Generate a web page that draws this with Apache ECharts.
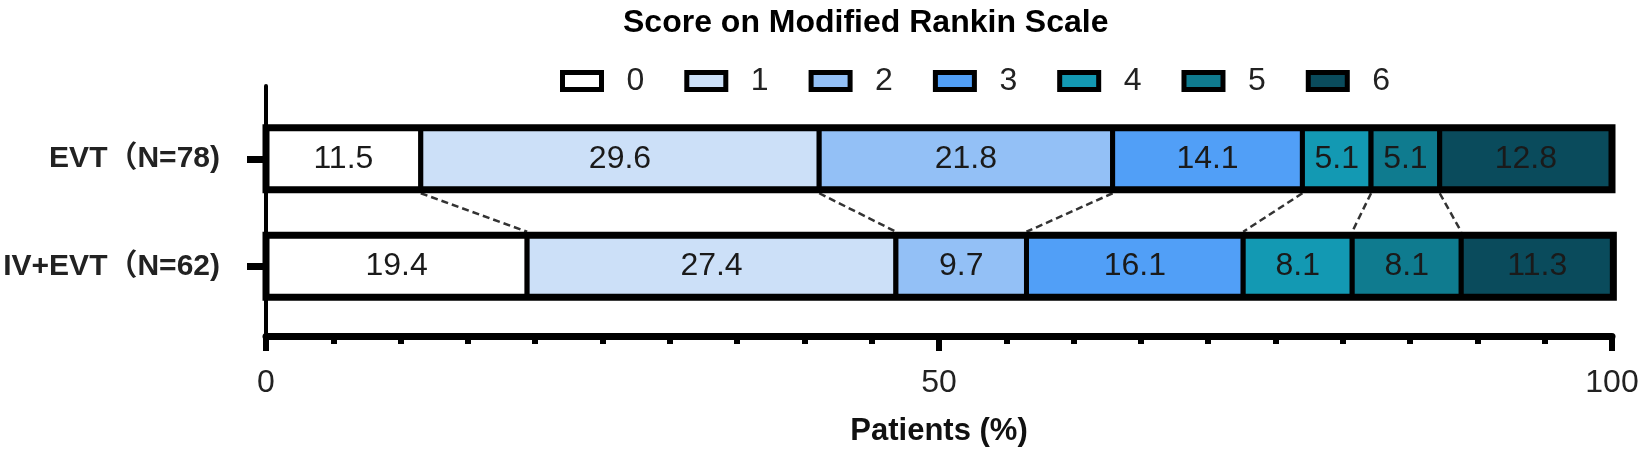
<!DOCTYPE html>
<html>
<head>
<meta charset="utf-8">
<script src="https://cdn.jsdelivr.net/npm/echarts@6/dist/echarts.min.js"></script>
<style>
html,body{margin:0;padding:0;background:#fff;}
#chart{width:1642px;height:452px;}
</style>
</head>
<body>
<div id="chart"></div>
<script>
const categories = ['EVT（N=78)', 'IV+EVT（N=62)'];
const scoreLabels = ['0', '1', '2', '3', '4', '5', '6'];
const evtValues = [11.5, 29.6, 21.8, 14.1, 5.1, 5.1, 12.8];
const ivEvtValues = [19.4, 27.4, 9.7, 16.1, 8.1, 8.1, 11.3];
const xMin = 0, xMax = 100, xInterval = 50;
const colors = ['#FFFFFF', '#CCE0F8', '#93C0F6', '#519FF7', '#1399B3', '#0F7B8F', '#0A4B5C'];

const FONT = '"Liberation Sans", Arial, "Noto Sans CJK SC", sans-serif';
const BAR_W = 62, SEP = 5, OUTLINE = 7;

function cumulative(arr) { let s = 0; return arr.map(v => (s += v)); }
const rows = [evtValues, ivEvtValues];
const cums = rows.map(cumulative);
const connectorData = cums[0].slice(0, -1).map((v, i) => [v, cums[1][i], 0]);

// one custom series per score: [start, end, categoryIndex, value]
const segSeries = scoreLabels.map((name, i) => ({
  name: name,
  type: 'custom',
  xAxisIndex: 1, yAxisIndex: 1,
  itemStyle: { color: colors[i] },
  encode: { x: [0, 1], y: 2 },
  data: rows.map((vals, r) => [cums[r][i] - vals[i], cums[r][i], r, vals[i]]),
  z: 2,
  silent: true,
  renderItem: function (params, api) {
    const cat = api.value(2);
    const a = api.coord([api.value(0), cat]);
    const b = api.coord([api.value(1), cat]);
    return {
      type: 'rect',
      shape: { x: a[0], y: a[1] - BAR_W / 2, width: b[0] - a[0], height: BAR_W },
      style: { fill: colors[i], stroke: '#000', lineWidth: SEP },
      textContent: {
        style: {
          text: Number(api.value(3)).toFixed(1),
          fontFamily: FONT, fontSize: 32, fill: '#1a1a1a'
        }
      },
      textConfig: { position: 'inside' }
    };
  }
}));

const outlineSeries = {
  type: 'custom',
  xAxisIndex: 1, yAxisIndex: 1,
  encode: { x: [0, 1], y: 2 },
  data: rows.map((vals, r) => [0, cums[r][cums[r].length - 1], r]),
  z: 3,
  silent: true,
  renderItem: function (params, api) {
    const cat = api.value(2);
    const a = api.coord([api.value(0), cat]);
    const b = api.coord([api.value(1), cat]);
    return {
      type: 'rect',
      shape: { x: a[0], y: a[1] - BAR_W / 2, width: b[0] - a[0], height: BAR_W },
      style: { fill: null, stroke: '#000', lineWidth: OUTLINE }
    };
  }
};

const connectorSeries = {
  type: 'custom',
  xAxisIndex: 1, yAxisIndex: 1,
  data: connectorData,
  encode: { x: [0, 1], y: 2 },
  silent: true,
  z: 1,
  renderItem: function (params, api) {
    const half = BAR_W / 2 + OUTLINE / 2;
    const a = api.coord([api.value(0), 0]);
    const b = api.coord([api.value(1), 1]);
    return {
      type: 'line',
      shape: { x1: a[0], y1: a[1] + half, x2: b[0], y2: b[1] - half },
      style: { stroke: '#333', lineWidth: 2.5, lineDash: [7, 4], fill: null }
    };
  }
};

const chart = echarts.init(document.getElementById('chart'), null, { renderer: 'canvas' });
chart.setOption({
  animation: false,
  backgroundColor: '#fff',
  title: {
    text: 'Score on Modified Rankin Scale',
    left: 618, top: 2,
    textStyle: { fontFamily: FONT, fontSize: 32, fontWeight: 'bold', color: '#000' }
  },
  legend: {
    data: scoreLabels,
    left: 555, top: 60,
    icon: 'rect',
    itemWidth: 39, itemHeight: 17,
    itemGap: 40,
    itemStyle: { borderColor: '#000', borderWidth: 5 },
    textStyle: { fontFamily: FONT, fontSize: 32, color: '#222', padding: [0, 0, 0, 20] },
    selectedMode: false
  },
  grid: [
    { left: 266, right: 30, top: 86, bottom: 115.5 },
    { left: 266, right: 30, top: 105, bottom: 132 }
  ],
  xAxis: [
    {
      gridIndex: 0, type: 'value', min: xMin, max: xMax, interval: xInterval,
      axisLine: { show: true, lineStyle: { color: '#000', width: 7 } },
      axisTick: { show: true, length: 15, lineStyle: { color: '#000', width: 6 } },
      minorTick: { show: true, splitNumber: 10, length: 8, lineStyle: { color: '#000', width: 6 } },
      splitLine: { show: false },
      axisLabel: { fontFamily: FONT, fontSize: 32, color: '#222', margin: 31 },
      name: 'Patients (%)', nameLocation: 'middle', nameGap: 80,
      nameTextStyle: { fontFamily: FONT, fontSize: 31, fontWeight: 'bold', color: '#111' }
    },
    { gridIndex: 1, type: 'value', min: xMin, max: xMax, show: false }
  ],
  yAxis: [
    {
      gridIndex: 0, type: 'value', min: 0, max: 1,
      axisLine: { show: true, lineStyle: { color: '#000', width: 4 } },
      axisTick: { show: false }, axisLabel: { show: false }, splitLine: { show: false }
    },
    {
      gridIndex: 1, type: 'category', data: categories, inverse: true,
      axisLine: { show: false },
      axisTick: { show: true, alignWithLabel: true, length: 19, lineStyle: { color: '#000', width: 7 } },
      axisLabel: { fontFamily: FONT, fontSize: 30, fontWeight: 'bold', color: '#222', margin: 46 },
      splitLine: { show: false }
    }
  ],
  series: segSeries.concat([outlineSeries, connectorSeries])
});
</script>
</body>
</html>
